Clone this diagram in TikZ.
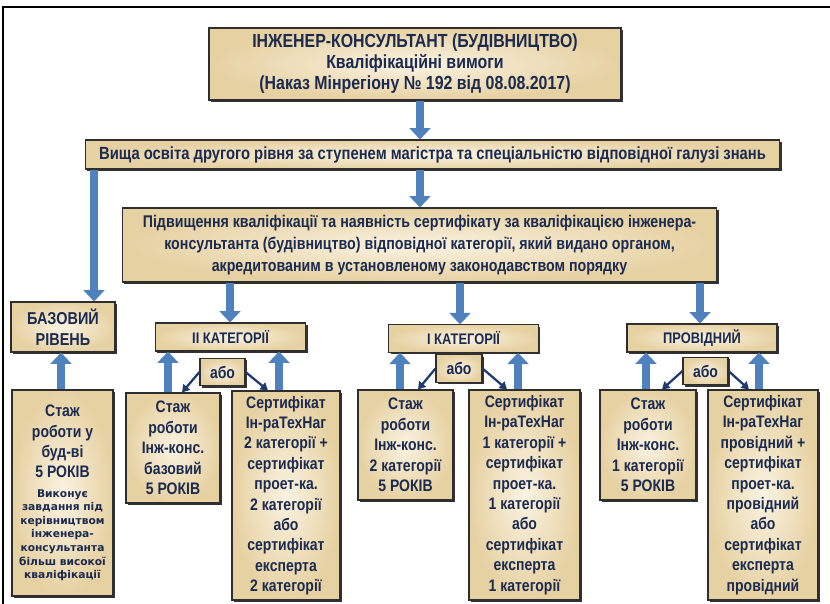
\documentclass[tikz,border=0pt]{standalone}
\usepackage{fontspec}
\setmainfont{Liberation Sans}[FakeStretch=0.84]
\newfontfamily\widefont{DejaVu Sans}
\usetikzlibrary{
  positioning,
  shadows,
  arrows.meta
}
\definecolor{boxin}{HTML}{FAF3E2}
\definecolor{boxout}{HTML}{E6D1A2}
\definecolor{boxline}{HTML}{2E2E2E}
\definecolor{boxtext}{HTML}{1B2A4E}
\definecolor{flowblue}{HTML}{4F81BD}
\definecolor{ornavy}{HTML}{1F3A6E}
\newcommand{\boxsize}[2]{\fontsize{#1}{#2}\selectfont}

\tikzset{
  card/.style={draw=boxline, line width=0.8pt, inner color=boxin, outer color=boxout,
    drop shadow={shadow xshift=1.6pt, shadow yshift=-1.6pt, fill=black!80, opacity=1},
    text=boxtext, align=center, inner sep=1pt},
  headtext/.style={font=\bfseries\boxsize{14.2}{15.75}},
  bartext/.style={font=\bfseries\boxsize{13.2}{14}},
  qualtext/.style={font=\bfseries\boxsize{12.7}{16.5}},
  cattext/.style={font=\bfseries\boxsize{11.5}{15.4}},
  celltext/.style={font=\bfseries\boxsize{12.5}{15.3}},
  flow/.style={draw=flowblue, line width=6pt, -{Triangle[width=15.5pt,length=8.5pt]}},
  orflow/.style={draw=ornavy, line width=1.7pt, -{Triangle[width=6.5pt,length=5.5pt]}}
}

\begin{document}
\begin{tikzpicture}[x=0.75pt,y=-0.75pt]
  \useasboundingbox (0,0) rectangle (830,603);
  \draw[line width=1.5pt] (3,7) rectangle (836,612);

  % header and common requirements
  \node[card,headtext,minimum width=309pt,minimum height=54pt] (title) at (415,64)
    {ІНЖЕНЕР-КОНСУЛЬТАНТ (БУДІВНИЦТВО)\\ Кваліфікаційні вимоги\\ (Наказ Мінрегіону № 192 від 08.08.2017)};
  \node[card,bartext,minimum width=521pt,minimum height=21.75pt] (edu) at (432.5,154.5)
    {Вища освіта другого рівня за ступенем магістра та  спеціальністю відповідної галузі знань};
  \node[card,qualtext,minimum width=446pt,minimum height=55.5pt] (qual) at (419.5,245)
    {Підвищення кваліфікації та наявність  сертифікату за кваліфікацією інженера-\\
     консультанта (будівництво)  відповідної категорії,  який видано  органом,\\
     акредитованим в установленому законодавством порядку};

  % levels
  \node[card,font=\bfseries\boxsize{12.9}{15.4},minimum width=78pt,minimum height=37.5pt] (base) at (63,327) {БАЗОВИЙ\\ РІВЕНЬ};
  \node[card,cattext,minimum width=113pt,minimum height=21pt] (cat2) at (230.5,337) {ІІ КАТЕГОРІЇ};
  \node[card,cattext,minimum width=112pt,minimum height=20.5pt] (cat1) at (463.5,338.5) {І КАТЕГОРІЇ};
  \node[card,cattext,minimum width=112.5pt,minimum height=21pt] (lead) at (702,338) {ПРОВІДНИЙ};

  \node[card,cattext,font=\bfseries\boxsize{12.5}{15},minimum width=33.75pt,minimum height=20.5pt] (or2) at (222.5,372) {або};
  \node[card,cattext,font=\bfseries\boxsize{12.5}{15},minimum width=34.5pt,minimum height=20.5pt] (or1) at (459,368.5) {або};
  \node[card,cattext,font=\bfseries\boxsize{12.5}{15},minimum width=33.75pt,minimum height=20.5pt] (orL) at (705.5,371) {або};

  % conditions
  \node[card,celltext,minimum width=75.75pt,minimum height=154.5pt] (exp0) at (62.5,493)
    {Стаж\\ роботи у\\ буд-ві\\ 5 РОКІВ\\[-1pt]
     \widefont\boxsize{8}{10}Виконує\\[-5.1pt]
     \widefont\boxsize{8}{10}завдання під\\[-5.1pt]
     \widefont\boxsize{8}{10}керівництвом\\[-5.1pt]
     \widefont\boxsize{8}{10}інженера-\\[-5.1pt]
     \widefont\boxsize{8}{10}консультанта\\[-5.1pt]
     \widefont\boxsize{8}{10}більш високої\\[-5.1pt]
     \widefont\boxsize{8}{10}кваліфікації};
  \node[card,celltext,minimum width=70.5pt,minimum height=82.5pt] (exp2) at (173,448)
    {Стаж\\ роботи\\ Інж-конс.\\ базовий\\ 5 РОКІВ};
  \node[card,celltext,minimum width=81pt,minimum height=156.75pt] (cert2) at (286,495.5)
    {Сертифікат\\ Ін-раТехНаг\\ 2 категорії +\\ сертифікат\\ проет-ка.\\ 2 категорії\\ або\\ сертифікат\\ експерта\\ 2 категорії};
  \node[card,celltext,minimum width=71.25pt,minimum height=82.5pt] (exp1) at (405.5,445)
    {Стаж\\ роботи\\ Інж-конс.\\ 2 категорії\\ 5 РОКІВ};
  \node[card,celltext,minimum width=83.25pt,minimum height=157.5pt] (cert1) at (524.5,495)
    {Сертифікат\\ Ін-раТехНаг\\ 1 категорії +\\ сертифікат\\ проет-ка.\\ 1 категорії\\ або\\ сертифікат\\ експерта\\ 1 категорії};
  \node[card,celltext,minimum width=72pt,minimum height=82.5pt] (expL) at (648,445)
    {Стаж\\ роботи\\ Інж-конс.\\ 1 категорії\\ 5 РОКІВ};
  \node[card,celltext,minimum width=82.5pt,minimum height=157.5pt] (certL) at (763,495)
    {Сертифікат\\ Ін-раТехНаг\\ провідний +\\ сертифікат\\ проет-ка.\\ провідний\\ або\\ сертифікат\\ експерта\\ провідний};

  % block arrows down and up
  \foreach \from/\to/\x in {title/edu/420, edu/base/94, edu/qual/420, qual/cat2/230, qual/cat1/460, qual/lead/700}
    \draw[flow] (\from.south -| \x,0) -- (\to.north -| \x,0);
  \foreach \from/\to/\x in {exp0/base/61, exp2/cat2/168, cert2/cat2/279, exp1/cat1/400, cert1/cat1/518, expL/lead/646, certL/lead/759}
    \draw[flow] (\from.north -| \x,0) -- (\to.south -| \x,0);

  % "або" branches
  \foreach \o/\s/\c/\xs/\xc in {or2/exp2/cert2/182/268, or1/exp1/cert1/418/507, orL/expL/certL/662/749} {
    \draw[orflow] (\o.west) -- (\s.north -| \xs,0);
    \draw[orflow] (\o.east) -- (\c.north -| \xc,0);
  }
\end{tikzpicture}
\end{document}
